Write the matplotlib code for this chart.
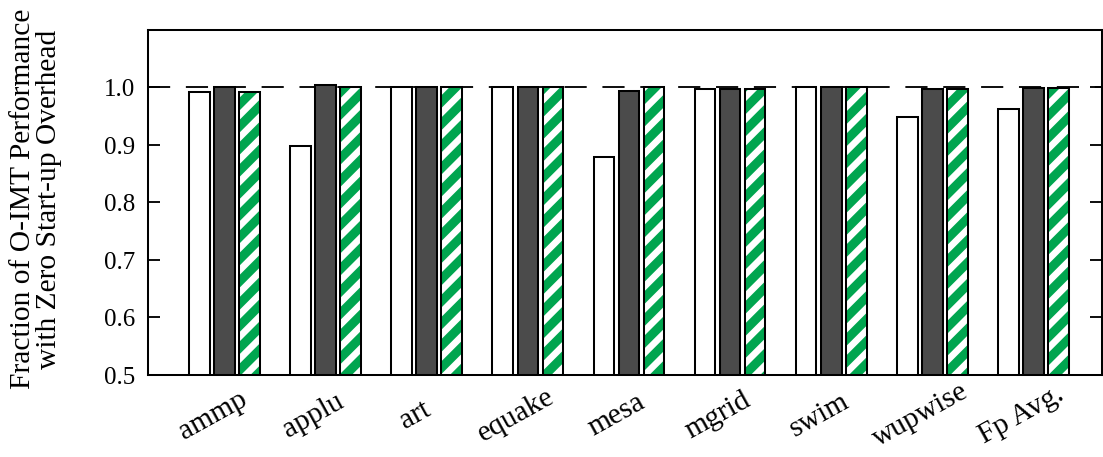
import matplotlib
matplotlib.use("Agg")
import matplotlib.pyplot as plt
import matplotlib.transforms as mtransforms
import numpy as np

benchmarks = ["ammp", "applu", "art", "equake", "mesa", "mgrid", "swim", "wupwise", "Fp Avg."]
series_a = [0.992, 0.898, 1.000, 1.000, 0.878, 0.997, 1.000, 0.949, 0.962]
series_b = [1.000, 1.003, 1.000, 1.000, 0.994, 0.997, 1.000, 0.997, 0.999]
series_c = [0.992, 1.000, 1.000, 1.000, 1.000, 0.996, 1.000, 0.997, 0.998]
y_ticks = [0.5, 0.6, 0.7, 0.8, 0.9, 1.0]
y_ticklabels = ["0.5", "0.6", "0.7", "0.8", "0.9", "1.0"]

DPI = 133
W, H = 1103, 457
plt.rcParams["font.family"] = ["Liberation Serif", "DejaVu Serif"]
plt.rcParams["hatch.linewidth"] = 3.6
plt.rcParams["hatch.color"] = "white"

fig = plt.figure(figsize=((W + 0.4) / DPI, (H + 0.4) / DPI), dpi=DPI)
ax = fig.add_axes([148 / W, 1 - 375 / H, (1102 - 148) / W, (375 - 30) / H])

x = np.arange(len(benchmarks))
width = 0.205
step = 0.248
green = "#00a54f"
dark = "#4b4b4b"

ax.axhline(1.0, color="black", lw=1.0, linestyle=(0, (12, 8.5)), zorder=1)

ax.bar(x - step, series_a, width, bottom=0, color="white", edgecolor="black",
       linewidth=1.1, zorder=2)
ax.bar(x, series_b, width, color=dark, edgecolor="black", linewidth=1.1, zorder=2)
# striped bars: green fill with white diagonal hatch, then a black outline on top
striped = ax.bar(x + step, series_c, width, color=green, edgecolor="white",
                 hatch="//", linewidth=0.5, zorder=2)
for p in striped:
    if hasattr(p, "set_hatch_linewidth"):
        p.set_hatch_linewidth(3.6)
ax.bar(x + step, series_c, width, fill=False, edgecolor="black", linewidth=1.1,
       zorder=3)

ax.set_ylim(0.5, 1.1)
ax.set_xlim(-0.757, 8.683)
ax.set_yticks(y_ticks)
ax.set_yticklabels(y_ticklabels, fontsize=13.5)
ax.tick_params(axis="y", direction="in", length=6.5, width=1.0, right=True, pad=7)
ax.tick_params(axis="x", length=0)
ax.set_xticks([])
for s in ax.spines.values():
    s.set_linewidth(1.1)

# rotated category labels below the axis
offset = mtransforms.ScaledTranslation(-12 / DPI, -40 / DPI, fig.dpi_scale_trans)
trans = ax.get_xaxis_transform() + offset
for xi, name in zip(x, benchmarks):
    ax.text(xi, 0, name, transform=trans, rotation=29, rotation_mode="anchor",
            ha="center", va="center", fontsize=16)

fig.text(36 / W, 1 - 199 / H,
         "Fraction of O-IMT Performance\nwith Zero Start-up Overhead",
         rotation=90, ha="center", va="center", multialignment="center",
         fontsize=16, linespacing=1.0)

fig.savefig("out.png", dpi=DPI)
